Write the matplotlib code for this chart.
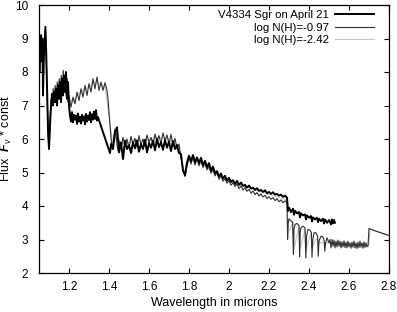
import matplotlib
matplotlib.use("Agg")
import matplotlib.pyplot as plt


# observed spectrum, V4334 Sgr on April 21 (gap across the 1.35-1.40 band)
wl_obs = [
    1.050, 1.054, 1.057, 1.060, 1.064, 1.067, 1.070, 1.074, 1.078, 1.082,
    1.086, 1.090, 1.095, 1.100, 1.105, 1.110, 1.115, 1.120, 1.125, 1.130,
    1.135, 1.140, 1.145, 1.150, 1.155, 1.160, 1.165, 1.170, 1.175, 1.180,
    1.185, 1.190, 1.195, 1.200,
    1.205, 1.210, 1.215, 1.220, 1.225, 1.230, 1.235, 1.240, 1.245, 1.250,
    1.255, 1.260, 1.265, 1.270, 1.275, 1.280, 1.285, 1.290, 1.295, 1.300,
    1.305, 1.310, 1.315, 1.320, 1.325, 1.330, 1.335, 1.340, 1.345,
    1.405,
    1.41, 1.42, 1.43, 1.44, 1.45, 1.46, 1.47, 1.48, 1.49, 1.50,
    1.51, 1.52, 1.53, 1.54, 1.55, 1.56, 1.57, 1.58, 1.59, 1.60,
    1.61, 1.62, 1.63, 1.64, 1.65, 1.66, 1.67, 1.68, 1.69, 1.70,
    1.71, 1.72, 1.73, 1.74, 1.75,
    1.76, 1.77, 1.78, 1.79, 1.80, 1.81, 1.82, 1.83, 1.84, 1.85,
    1.86, 1.87, 1.88, 1.89, 1.90, 1.91, 1.92, 1.93, 1.94, 1.95,
    1.96, 1.97, 1.98, 1.99, 2.00, 2.01, 2.02, 2.03, 2.04, 2.05,
    2.06, 2.07, 2.08, 2.09, 2.10, 2.11, 2.12, 2.13, 2.14, 2.15,
    2.16, 2.17, 2.18, 2.19, 2.20, 2.21, 2.22, 2.23, 2.24, 2.25,
    2.26, 2.27, 2.28, 2.29,
    2.295, 2.30, 2.31, 2.32, 2.325, 2.33, 2.34, 2.35, 2.355, 2.36,
    2.37, 2.38, 2.385, 2.39, 2.40, 2.41, 2.415, 2.42, 2.43, 2.44,
    2.445, 2.45, 2.46, 2.47, 2.475, 2.48, 2.49, 2.50, 2.51, 2.515,
    2.52, 2.525, 2.53,
]
flux_obs = [
    8.5, 9.0, 8.3, 9.1, 8.6, 9.0, 7.3, 8.4, 8.9, 9.35,
    8.6, 7.6, 6.3, 5.7, 6.4, 7.0, 7.35, 7.0, 7.4, 7.1,
    7.5, 7.0, 7.6, 7.2, 7.7, 7.1, 7.8, 7.3, 7.9, 7.4,
    8.0, 7.2, 7.7, 7.0,
    6.7, 6.52, 6.8, 6.5, 6.72, 6.58, 6.7, 6.45, 6.76, 6.52,
    6.66, 6.46, 6.72, 6.55, 6.68, 6.44, 6.75, 6.52, 6.7, 6.57,
    6.8, 6.5, 6.74, 6.58, 6.82, 6.6, 6.86, 6.55, 6.65,
    5.58,
    5.85, 5.7, 6.2, 6.35, 5.6, 5.9, 5.4, 5.95, 5.7, 5.82,
    5.58, 5.9, 5.72, 5.96, 5.62, 5.85, 5.7, 5.98, 5.6, 5.88,
    5.74, 5.95, 5.66, 6.0, 5.76, 5.9, 5.68, 5.97, 5.74, 5.92,
    5.64, 5.94, 5.7, 5.82, 5.58,
    5.55, 5.05, 4.92, 5.3, 5.5, 5.34, 5.52, 5.3, 5.45, 5.28,
    5.44, 5.22, 5.35, 5.16, 5.28, 5.06, 5.18, 4.98, 5.04, 4.88,
    4.97, 4.82, 4.9, 4.76, 4.84, 4.72, 4.77, 4.66, 4.75, 4.63,
    4.7, 4.6, 4.63, 4.55, 4.61, 4.52, 4.55, 4.48, 4.53, 4.45,
    4.48, 4.42, 4.47, 4.38, 4.42, 4.36, 4.41, 4.34, 4.36, 4.31,
    4.34, 4.27, 4.31, 4.25,
    3.85, 3.95, 3.82, 3.92, 3.74, 3.86, 3.78, 3.82, 3.66, 3.78,
    3.72, 3.75, 3.6, 3.72, 3.65, 3.7, 3.54, 3.66, 3.6, 3.65,
    3.52, 3.62, 3.55, 3.62, 3.48, 3.6, 3.5, 3.58, 3.45, 3.6,
    3.48, 3.58, 3.5,
]

# model, log N(H) = -0.97
wl_mod1 = [
    1.050, 1.053, 1.057, 1.061, 1.065, 1.068, 1.071, 1.075, 1.079, 1.083,
    1.087, 1.091, 1.096, 1.101, 1.106, 1.111, 1.116, 1.121, 1.126, 1.131,
    1.136, 1.141, 1.146, 1.151, 1.156, 1.161, 1.166, 1.171, 1.176, 1.181,
    1.186, 1.191, 1.196,
    1.20, 1.21, 1.22, 1.23, 1.24, 1.25, 1.26, 1.27, 1.28, 1.29,
    1.30, 1.31, 1.32, 1.33, 1.34, 1.35, 1.36, 1.37, 1.38, 1.39,
    1.395, 1.40, 1.405, 1.41, 1.415, 1.42, 1.425, 1.43, 1.435, 1.44,
    1.445, 1.45,
    1.46, 1.47, 1.48, 1.49, 1.50, 1.51, 1.52, 1.53, 1.54, 1.55,
    1.56, 1.57, 1.58, 1.59, 1.60, 1.61, 1.62, 1.63, 1.64, 1.65,
    1.66, 1.67, 1.68, 1.69, 1.70, 1.71, 1.72, 1.73, 1.74, 1.75,
    1.76, 1.77, 1.78, 1.79, 1.80, 1.81, 1.82, 1.83, 1.84, 1.85,
    1.86, 1.87, 1.88, 1.89, 1.90, 1.91, 1.92, 1.93, 1.94, 1.95,
    1.96, 1.97, 1.98, 1.99, 2.00, 2.01, 2.02, 2.03, 2.04, 2.05,
    2.06, 2.07, 2.08, 2.09, 2.10, 2.11, 2.12, 2.13, 2.14, 2.15,
    2.16, 2.17, 2.18, 2.19, 2.20, 2.21, 2.22, 2.23, 2.24, 2.25,
    2.26, 2.27, 2.28, 2.29,
    2.293, 2.296, 2.30, 2.31, 2.318, 2.322, 2.325, 2.33, 2.34, 2.35,
    2.353, 2.356, 2.36, 2.37, 2.38, 2.384, 2.388, 2.395, 2.405, 2.412,
    2.415, 2.419, 2.425, 2.435, 2.443, 2.446, 2.45, 2.46, 2.47, 2.476,
    2.479, 2.483, 2.49, 2.50, 2.505, 2.51, 2.515, 2.52, 2.525, 2.53,
    2.535, 2.54, 2.545, 2.55, 2.555, 2.56, 2.565, 2.57, 2.575, 2.58,
    2.585, 2.59, 2.595, 2.60, 2.605, 2.61, 2.615, 2.62, 2.625, 2.63,
    2.635, 2.64, 2.645, 2.65, 2.655, 2.66, 2.665, 2.67, 2.675, 2.68,
    2.685, 2.69, 2.695, 2.70, 2.72, 2.74, 2.76, 2.78, 2.80,
]
flux_mod1 = [
    8.3, 8.9, 8.0, 9.0, 8.4, 8.8, 7.5, 8.6, 9.2, 9.1,
    8.3, 7.2, 6.0, 5.8, 6.7, 7.2, 7.0, 7.5, 7.2, 7.6,
    7.1, 7.7, 7.3, 7.8, 7.3, 7.9, 7.4, 8.05, 7.5, 7.9,
    7.3, 7.8, 7.1,
    7.3, 6.95, 7.25, 7.05, 7.4, 7.15, 7.5, 7.25, 7.6, 7.3,
    7.65, 7.4, 7.8, 7.5, 7.85, 7.45, 7.7, 7.45, 7.68, 7.45,
    7.2, 6.8, 6.4, 6.05, 5.7, 5.85, 6.1, 6.3, 6.15, 5.85,
    5.65, 5.95,
    5.7, 6.05, 5.8, 6.0, 5.72, 6.08, 5.85, 6.02, 5.76, 6.1,
    5.82, 6.0, 5.78, 6.12, 5.9, 6.05, 5.82, 6.15, 5.92, 6.1,
    5.86, 6.18, 5.95, 6.12, 5.85, 6.14, 5.8, 6.02, 5.72, 5.85,
    5.45, 5.1, 4.88, 5.2, 5.45, 5.25, 5.48, 5.22, 5.44, 5.2,
    5.38, 5.15, 5.3, 5.08, 5.2, 4.98, 5.1, 4.9, 5.0, 4.8,
    4.9, 4.74, 4.82, 4.68, 4.76, 4.62, 4.7, 4.58, 4.66, 4.52,
    4.6, 4.48, 4.55, 4.44, 4.5, 4.38, 4.45, 4.34, 4.4, 4.3,
    4.36, 4.27, 4.32, 4.22, 4.28, 4.2, 4.25, 4.16, 4.22, 4.13,
    4.18, 4.1, 4.15, 4.1,
    3.0, 3.5, 3.62, 3.55, 3.52, 2.55, 3.3, 3.45, 3.48, 3.42,
    2.48, 3.2, 3.35, 3.4, 3.35, 2.45, 3.1, 3.3, 3.28, 3.2,
    2.47, 3.0, 3.2, 3.2, 3.1, 2.5, 2.95, 3.1, 3.08, 2.95,
    2.65, 2.9, 3.05, 2.9, 3.0, 2.75, 3.0, 2.8, 2.98, 2.75,
    2.95, 2.78, 2.98, 2.8, 2.95, 2.75, 2.93, 2.78, 2.96, 2.76,
    2.92, 2.75, 2.95, 2.78, 2.9, 2.74, 2.92, 2.77, 2.95, 2.75,
    2.9, 2.73, 2.92, 2.76, 2.95, 2.77, 2.9, 2.74, 2.93, 2.76,
    2.9, 2.78, 2.8, 3.33, 3.28, 3.24, 3.2, 3.16, 3.12,
]

# model, log N(H) = -2.42
wl_mod2 = [
    1.05, 1.06, 1.07, 1.08, 1.09, 1.10, 1.11, 1.12, 1.14, 1.16,
    1.18, 1.20, 1.22, 1.24, 1.26, 1.28, 1.30, 1.32, 1.34, 1.36,
    1.38, 1.40, 1.42, 1.44, 1.46, 1.50, 1.55, 1.60, 1.65, 1.70,
    1.75, 1.78, 1.80, 1.85, 1.90, 1.95, 2.00, 2.05, 2.10, 2.15,
    2.20, 2.25, 2.29, 2.295, 2.32, 2.325, 2.35, 2.355, 2.38, 2.385,
    2.41, 2.415, 2.44, 2.45, 2.50, 2.55, 2.60, 2.65, 2.70, 2.705,
    2.75, 2.80,
]
flux_mod2 = [
    8.6, 8.8, 8.2, 9.1, 7.4, 5.9, 7.0, 7.3, 7.4, 7.6,
    7.7, 7.2, 7.1, 7.3, 7.4, 7.5, 7.55, 7.65, 7.7, 7.6,
    7.55, 6.7, 5.8, 6.2, 5.85, 5.9, 5.95, 5.98, 6.05, 6.0,
    5.7, 4.95, 5.4, 5.3, 5.1, 4.9, 4.78, 4.65, 4.55, 4.45,
    4.35, 4.25, 4.18, 3.2, 3.5, 2.7, 3.4, 2.7, 3.3, 2.7,
    3.2, 2.75, 3.05, 2.9, 2.9, 2.88, 2.86, 2.86, 2.85, 3.3,
    3.22, 3.12,
]

x_ticks = [1.2, 1.4, 1.6, 1.8, 2.0, 2.2, 2.4, 2.6, 2.8]
x_tick_labels = ["1.2", "1.4", "1.6", "1.8", "2", "2.2", "2.4", "2.6", "2.8"]
y_ticks = [2, 3, 4, 5, 6, 7, 8, 9, 10]


def main():
    plt.rcParams["font.family"] = ["Liberation Sans", "DejaVu Sans"]
    plt.rcParams["mathtext.fontset"] = "custom"
    plt.rcParams["mathtext.rm"] = "Liberation Sans"
    plt.rcParams["mathtext.it"] = "Liberation Sans:italic"
    plt.rcParams["mathtext.bf"] = "Liberation Sans:bold"
    plt.rcParams["mathtext.bfit"] = "Liberation Sans:bold:italic"

    fig = plt.figure(figsize=(3.97, 3.12), dpi=100)
    ax = fig.add_axes([39 / 397, 39 / 312, 350 / 397, 268 / 312])

    ax.plot(wl_mod2, flux_mod2, color="#c8c8c8", lw=0.8,
            label="log N(H)=-2.42", zorder=1)
    ax.plot(wl_mod1, flux_mod1, color="#303030", lw=0.8,
            label="log N(H)=-0.97", zorder=2)
    ax.plot(wl_obs, flux_obs, color="black", lw=1.4,
            label="V4334 Sgr on April 21", zorder=3)

    ax.set_xlim(1.05, 2.8)
    ax.set_ylim(2, 10)
    ax.set_xticks(x_ticks)
    ax.set_xticklabels(x_tick_labels)
    ax.set_yticks(y_ticks)

    ax.tick_params(direction="in", length=3.6, width=0.8, labelsize=8.5,
                   top=True, right=True, colors="black")
    ax.tick_params(axis="x", pad=6)
    ax.tick_params(axis="y", pad=8)
    for spine in ax.spines.values():
        spine.set_linewidth(0.9)

    ax.set_xlabel("Wavelength in microns", fontsize=9)
    ax.xaxis.set_label_coords(0.5, -0.09)
    ax.set_ylabel(r"Flux  $\mathbfit{F}_{\nu}$ * const", fontsize=9)
    ax.yaxis.set_label_coords(-0.072, 0.5)

    handles, labels = ax.get_legend_handles_labels()
    ax.legend(handles[::-1], labels[::-1], loc="upper right",
              bbox_to_anchor=(0.969, 0.998), borderaxespad=0, frameon=False,
              markerfirst=False, handlelength=3.4, handletextpad=0.5,
              labelspacing=0.22, fontsize=8.2)

    fig.savefig("out.png", dpi=100)
    plt.close(fig)


if __name__ == "__main__":
    main()
